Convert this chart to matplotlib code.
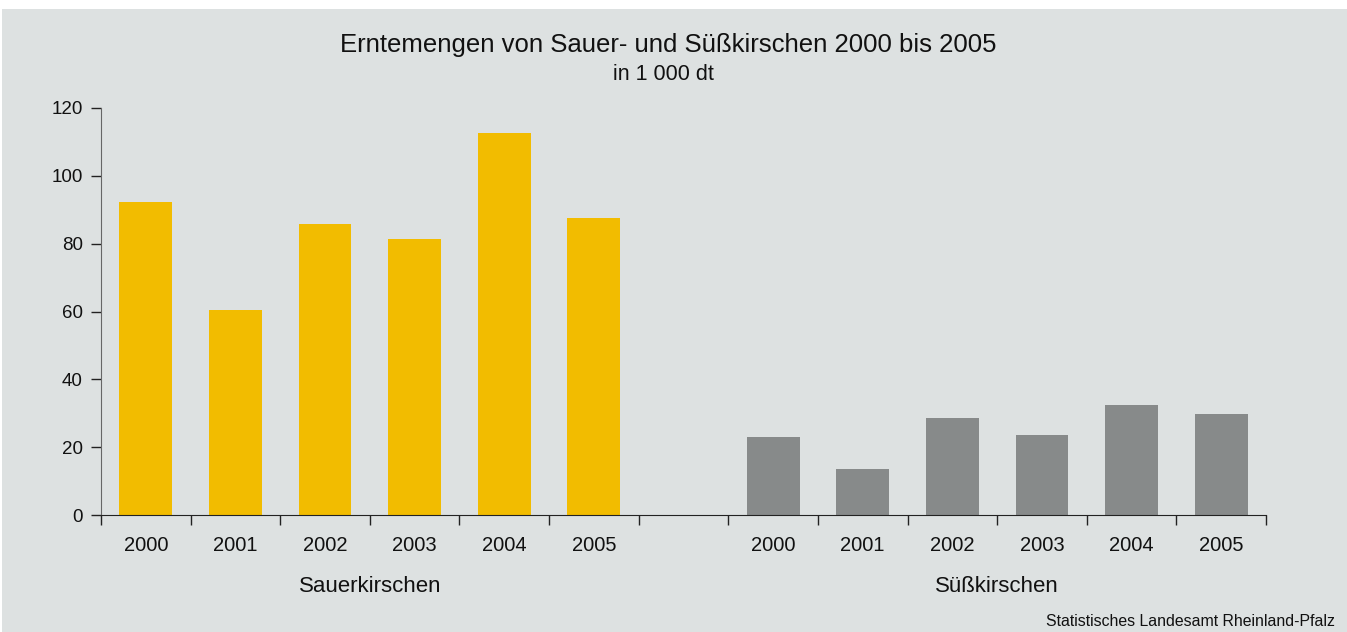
"""Erntemengen von Sauer- und Suesskirschen 2000 bis 2005."""

import matplotlib.pyplot as plt
from matplotlib.patches import Rectangle

plt.rcParams['font.family'] = ['Liberation Sans', 'DejaVu Sans']

years = ['2000', '2001', '2002', '2003', '2004', '2005']
sauer = [92.3, 60.5, 85.8, 81.4, 112.7, 87.6]
suess = [23.0, 13.6, 28.6, 23.6, 32.4, 29.8]
groups = ['Sauerkirschen', 'Süßkirschen']


def main():
    """Main program called during execution."""

    # initialize figure with grey panel
    fig = plt.figure(figsize=(13.47, 6.32), dpi=100)
    fig.patch.set_facecolor('white')
    fig.patches.append(Rectangle((2/1347, 0), 1, 1 - 9/632,
                                 transform=fig.transFigure,
                                 facecolor='#dde1e1', edgecolor='none',
                                 zorder=-10))
    ax = fig.add_axes([101/1347, 1 - 515/632, 1165/1347, 407/632])
    ax.set_facecolor('none')

    # draw bars, one empty slot between groups
    xs = list(range(6))
    xg = [i + 7 for i in range(6)]
    ax.bar(xs, sauer, width=0.59, color='#f2bc00', zorder=2)
    ax.bar(xg, suess, width=0.59, color='#878a8a', zorder=2)

    # set axes properties
    ax.set_xlim(-0.5, 12.5)
    ax.set_ylim(0, 120)
    ax.set_yticks(range(0, 121, 20))
    ax.set_xticks([i - 0.5 for i in range(14)])
    ax.set_xticklabels([])
    ax.tick_params(axis='x', length=7, width=1, color='#222222')
    ax.tick_params(axis='y', length=7, width=1, color='#222222',
                   labelsize=13.5, pad=6, labelcolor='#111111')
    for side in ('top', 'right'):
        ax.spines[side].set_visible(False)
    ax.spines['left'].set_color('#666666')
    ax.spines['bottom'].set_color('#222222')

    # year labels and group labels
    for i, year in enumerate(years):
        for x in (xs[i], xg[i]):
            ax.text(x, -9.0, year, ha='center', va='center', fontsize=14.5,
                    color='#111111')
    ax.text(2.5, -21.0, groups[0], ha='center', va='center', fontsize=16,
            color='#111111')
    ax.text(9.5, -21.0, groups[1], ha='center', va='center', fontsize=16,
            color='#111111')

    # titles and source
    fig.text(668/1347, 1 - 45/632,
             'Erntemengen von Sauer- und Süßkirschen 2000 bis 2005',
             ha='center', va='center', fontsize=18.5, color='#111111')
    fig.text(663/1347, 1 - 74/632, 'in 1 000 dt', ha='center', va='center',
             fontsize=15.5, color='#111111')
    fig.text(1335/1347, 1 - 621/632, 'Statistisches Landesamt Rheinland-Pfalz',
             ha='right', va='center', fontsize=11.4, color='#111111')

    # save figure
    fig.savefig('out.png', dpi=100, facecolor=fig.get_facecolor())


if __name__ == '__main__':
    main()
